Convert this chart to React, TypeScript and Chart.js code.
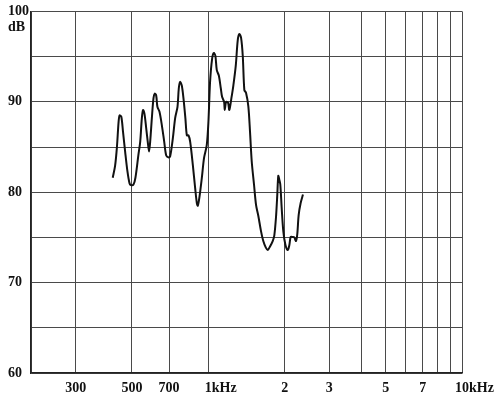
import React, { useEffect, useRef } from "react";
import { Chart, registerables } from "chart.js";

Chart.register(...registerables);

// Frequency (Hz) and level (dB)
const freqHz = [
  420, 429, 436, 443, 447, 454, 461, 470, 480, 489, 495, 507, 516, 530, 539, 547, 553, 560, 569, 577,
  584, 590, 599, 608, 615, 623, 630, 642, 656, 670, 682, 696, 707, 725, 740, 756, 765, 774, 786, 798,
  812, 823, 835, 848, 869, 887, 901, 909, 922, 943, 962, 986, 1001, 1016, 1035, 1051, 1066, 1080, 1100,
  1120, 1133, 1154, 1161, 1175, 1196, 1210, 1233, 1255, 1283, 1306, 1325, 1346, 1367, 1387, 1408, 1438,
  1460, 1483, 1514, 1542, 1574, 1613, 1647, 1684, 1715, 1751, 1794, 1820, 1848, 1870, 1887, 1904, 1922,
  1946, 1975, 2011, 2055, 2085, 2112, 2150, 2182, 2216, 2242, 2271, 2312, 2361,
];
const levelDb = [
  81.6, 82.9, 84.9, 87.8, 88.5, 88.35, 86.7, 84.5, 82.3, 81.0, 80.8, 80.85, 81.6, 84.1, 85.6, 88.2, 89.1,
  88.7, 87.1, 85.6, 84.5, 85.6, 88.2, 90.4, 90.9, 90.7, 89.45, 88.9, 87.4, 85.6, 84.1, 83.85, 83.96, 86.0,
  88.2, 89.45, 91.5, 92.2, 91.8, 90.4, 88.2, 86.3, 86.3, 85.6, 83.0, 80.5, 78.8, 78.5, 79.4, 81.6, 83.8,
  85.2, 87.8, 92.2, 94.76, 95.4, 95.1, 93.5, 92.9, 91.5, 90.55, 90.0, 89.1, 90.0, 89.9, 89.1, 90.4, 91.8,
  94.0, 96.8, 97.5, 97.1, 95.1, 91.3, 91.0, 89.5, 86.7, 83.4, 80.85, 78.6, 77.4, 75.7, 74.6, 73.9, 73.6,
  74.0, 74.6, 75.2, 77.2, 79.7, 81.8, 81.4, 80.85, 78.3, 75.7, 74.25, 73.6, 74.1, 75.05, 75.05, 75.0, 74.6,
  75.35, 77.5, 78.8, 79.75,
];

const xGridValues = [200, 300, 500, 700, 1000, 2000, 3000, 4000, 5000, 6000, 7000, 8000, 9000, 10000];
const xTickValues = [300, 500, 700, 1000, 2000, 3000, 5000, 7000, 10000];
const xTickLabels = ["300", "500", "700", "1kHz", "2", "3", "5", "7", "10kHz"];
const yUnitLabel = "dB";

const FAMILY = "'Liberation Serif', 'DejaVu Serif', serif";
const FONT = "bold 14px " + FAMILY;

const labelPlugin = {
  id: "customLabels",
  afterDraw(chart: any) {
    const ctx = chart.ctx;
    const xs = chart.scales.x;
    const ys = chart.scales.y;
    ctx.save();
    ctx.font = FONT;
    ctx.fillStyle = "#111";
    ctx.textBaseline = "middle";
    const yText = chart.chartArea.bottom + 15;
    xTickValues.forEach((v, i) => {
      const lab = xTickLabels[i];
      const m = lab.match(/^(\d+)(.*)$/);
      const num = m ? m[1] : lab;
      const unit = m ? m[2] : "";
      const px = xs.getPixelForValue(v);
      const w = ctx.measureText(num).width;
      ctx.textAlign = "left";
      ctx.fillText(num, px - w / 2, yText);
      if (unit) ctx.fillText(unit, px + w / 2, yText);
    });
    ctx.textAlign = "left";
    ctx.fillText(yUnitLabel, 8, ys.getPixelForValue(100) + 16);
    ctx.restore();
  },
};

export default function App() {
  const ref = useRef<HTMLCanvasElement | null>(null);
  useEffect(() => {
    if (!ref.current) return;
    const chart = new Chart(ref.current, {
      type: "line",
      data: {
        datasets: [
          {
            data: freqHz.map((f, i) => ({ x: f, y: levelDb[i] })),
            borderColor: "#111",
            borderWidth: 2,
            pointRadius: 0,
            tension: 0.3,
            fill: false,
          },
        ],
      },
      options: {
        responsive: false,
        animation: false,
        layout: { padding: { left: 8, top: 9, right: 38, bottom: 0 } },
        plugins: { legend: { display: false }, tooltip: { enabled: false } },
        scales: {
          x: {
            type: "logarithmic",
            min: 200,
            max: 10000,
            afterBuildTicks: (scale: any) => {
              scale.ticks = xGridValues.map((v) => ({ value: v }));
            },
            afterFit: (scale: any) => {
              scale.height = 28;
            },
            ticks: { display: false },
            grid: { color: "#4a4a4a", lineWidth: 1, drawTicks: false },
            border: { display: true, color: "#222", width: 1.5 },
          },
          y: {
            min: 60,
            max: 100,
            afterFit: (scale: any) => {
              scale.width = 23;
            },
            ticks: {
              stepSize: 5,
              crossAlign: "far",
              color: "#111",
              font: { family: FAMILY, size: 14, weight: "bold" },
              callback: (v: any) => (Number(v) % 10 === 0 ? String(v) : ""),
            },
            grid: { color: "#4a4a4a", lineWidth: 1, drawTicks: false },
            border: { display: true, color: "#222", width: 1.5 },
          },
        },
      },
      plugins: [labelPlugin],
    });
    return () => chart.destroy();
  }, []);
  return (
    <div style={{ position: "absolute", left: 0, top: 0, width: 500, height: 401, background: "#fff" }}>
      <canvas ref={ref} width={500} height={401} style={{ display: "block" }} />
    </div>
  );
}
